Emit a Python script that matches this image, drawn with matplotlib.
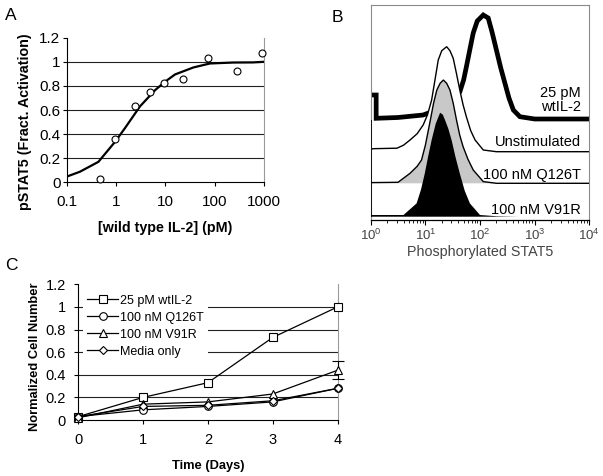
import matplotlib
matplotlib.use('Agg')
import matplotlib.pyplot as plt
import numpy as np
from matplotlib.ticker import FixedLocator, NullFormatter, LogLocator

plt.rcParams['font.family'] = ['Liberation Sans', 'DejaVu Sans']
plt.rcParams['mathtext.fontset'] = 'custom'
plt.rcParams['mathtext.rm'] = 'Liberation Sans'
plt.rcParams['mathtext.it'] = 'Liberation Sans:italic'
plt.rcParams['mathtext.bf'] = 'Liberation Sans:bold'

# ---------------- data ----------------
# Panel A: dose response
a_conc = [0.47, 0.95, 2.4, 4.8, 9.6, 23, 72, 280, 920]
a_resp = [0.028, 0.357, 0.63, 0.746, 0.82, 0.86, 1.034, 0.92, 1.075]
a_fit_conc = [0.1, 0.186, 0.44, 0.96, 1.52, 3.06, 6.2, 9.8, 15.7, 37, 80, 240, 600, 1000]
a_fit_resp = [0.047, 0.088, 0.17, 0.337, 0.45, 0.63, 0.765, 0.834, 0.895, 0.953, 0.986, 0.994, 0.995, 1.0]
a_xticks = [0.1, 1, 10, 100, 1000]
a_xticklabels = ['0.1', '1', '10', '100', '1000']
a_yticks = [0, 0.2, 0.4, 0.6, 0.8, 1.0, 1.2]
a_yticklabels = ['0', '0.2', '0.4', '0.6', '0.8', '1', '1.2']

# Panel B: flow histograms (log10 intensity, height)
wt_logx = [0.0, 0.1, 0.1, 0.5, 0.96, 1.3, 1.5, 1.63, 1.7, 1.75, 1.82, 1.876, 1.95, 2.06, 2.15, 2.22,
           2.30, 2.38, 2.455, 2.53, 2.61, 2.73, 3.0, 4.0]
wt_h = [25, 25, 1.7, 2.5, 5, 12, 20, 28, 40, 53, 72, 87, 99, 105, 102, 88,
        70, 52, 37, 22, 10, 3.3, 1, 1]
un_logx = [0.0, 0.04, 0.48, 0.6, 0.72, 0.85, 0.96, 1.04, 1.115, 1.18, 1.236, 1.3, 1.39, 1.45,
           1.51, 1.57, 1.63, 1.69, 1.75, 1.83, 1.91, 2.06, 2.3, 4.0]
un_h = [2, 3, 3.5, 6.5, 11.7, 18, 26.7, 37, 51.7, 73, 91.7, 101, 105, 101,
        93.4, 78, 61.7, 47, 35, 21, 11.7, 1.7, 0, 0]
q_logx = [0.0, 0.5, 0.72, 0.85, 0.93, 1.0, 1.08, 1.15, 1.21, 1.27, 1.33, 1.39, 1.45, 1.51,
          1.57, 1.63, 1.69, 1.78, 1.876, 2.06, 2.3, 4.0]
q_h = [0.7, 1, 10, 17, 23.3, 38, 60, 80, 93.3, 100, 103.3, 100, 93.3, 80,
       63.3, 48, 36.7, 24, 13.3, 1.7, 0, 0]
v_logx = [0.0, 0.6, 0.84, 0.92, 0.99, 1.05, 1.115, 1.19, 1.27, 1.32, 1.36, 1.42, 1.48, 1.55,
          1.63, 1.72, 1.815, 2.0, 2.3, 2.7, 4.0]
v_h = [1.7, 1.7, 13.3, 27, 43.3, 60, 76.7, 93, 104, 102, 96.7, 88, 76.7, 60,
       43.3, 26, 13.3, 1.7, 0.5, 0, 0]
b_labels = ['25 pM\nwtIL-2', 'Unstimulated', '100 nM Q126T', '100 nM V91R']
b_xticks = [1, 10, 100, 1000, 10000]
b_xticklabels = [r'$\mathregular{10^{0}}$', r'$\mathregular{10^{1}}$', r'$\mathregular{10^{2}}$',
                 r'$\mathregular{10^{3}}$', r'$\mathregular{10^{4}}$']

# Panel C: proliferation
c_days = [0, 1, 2, 3, 4]
c_wt = [0.03, 0.2, 0.33, 0.73, 1.0]
c_q126t = [0.03, 0.09, 0.12, 0.16, 0.28]
c_v91r = [0.02, 0.14, 0.16, 0.23, 0.44]
c_v91r_err = [0, 0, 0, 0, 0.08]
c_media = [0.03, 0.12, 0.13, 0.17, 0.28]
c_series = ['25 pM wtIL-2', '100 nM Q126T', '100 nM V91R', 'Media only']
c_yticks = [0, 0.2, 0.4, 0.6, 0.8, 1.0, 1.2]
c_yticklabels = ['0', '0.2', '0.4', '0.6', '0.8', '1', '1.2']

# ---------------- layout ----------------
W, H = 603, 476
fig = plt.figure(figsize=(W / 100, H / 100), dpi=100)


def ax_px(l, t, r, b):
    return fig.add_axes([l / W, 1 - b / H, (r - l) / W, (b - t) / H])


def excel_style(ax, grid_vals):
    ax.spines['top'].set_visible(False)
    ax.spines['right'].set_color('#9a9a9a')
    ax.spines['right'].set_linewidth(0.8)
    for s in ('left', 'bottom'):
        ax.spines[s].set_color('black')
        ax.spines[s].set_linewidth(0.8)
    for g in grid_vals:
        ax.axhline(g, color='#222222', lw=0.8, zorder=1)


# ---------- Panel A ----------
axA = ax_px(66.7, 37.7, 264, 182.3)
axA.set_xscale('log')
axA.set_xlim(0.1, 1000)
axA.set_ylim(0, 1.2)
excel_style(axA, a_yticks[1:-1])
axA.plot(a_fit_conc, a_fit_resp, color='black', lw=1.6, zorder=3)
axA.plot(a_conc, a_resp, 'o', ms=5, mfc='white', mec='black', mew=0.8, zorder=4, clip_on=False)
axA.xaxis.set_major_locator(FixedLocator(a_xticks))
axA.xaxis.set_minor_locator(FixedLocator([]))
axA.set_xticklabels(a_xticklabels)
axA.set_yticks(a_yticks)
axA.set_yticklabels(a_yticklabels)
axA.tick_params(axis='both', direction='out', length=3, width=0.8, labelsize=11, colors='black')
axA.tick_params(axis='x', pad=6)
axA.tick_params(axis='y', pad=1.5)
axA.set_xlabel('[wild type IL-2] (pM)', fontsize=10.3, fontweight='bold', labelpad=9)
axA.set_ylabel('pSTAT5 (Fract. Activation)', fontsize=10.3, fontweight='bold')
axA.yaxis.set_label_coords(-0.176, 0.42)
fig.text(5 / W, 1 - 20 / H, 'A', fontsize=12.5, ha='left', va='baseline')

# ---------- Panel B ----------
axB = ax_px(370.7, 5, 589.3, 220)
axB.set_xscale('log')
axB.set_xlim(1, 1e4)
axB.set_ylim(0, 215)
for s in ('top', 'left', 'right'):
    axB.spines[s].set_color('#8a8a8a')
    axB.spines[s].set_linewidth(0.8)
axB.spines['bottom'].set_color('black')
axB.spines['bottom'].set_linewidth(0.9)

offsets = [3.3, 36.7, 68.3, 100.0]  # V91R, Q126T, Unstim, wtIL-2 baselines
hist = [
    (wt_logx, wt_h, offsets[3], 'white', 'black', 3.4, 1),
    (un_logx, un_h, offsets[2], 'white', 'black', 1.0, 2),
    (q_logx, q_h, offsets[1], '#c8c8c8', 'black', 1.0, 3),
    (v_logx, v_h, offsets[0], 'black', 'black', 0.6, 4),
]
for lx, h, base, fc, ec, lw, z in hist:
    xv = 10 ** np.asarray(lx)
    yv = base + np.asarray(h)
    axB.fill_between(xv, base, yv, facecolor=fc, edgecolor='none', zorder=z)
    if fc != 'black':
        axB.plot(xv, yv, color=ec, lw=lw, zorder=z + 0.5, solid_joinstyle='miter')
axB.vlines(10 ** wt_logx[0], offsets[0], offsets[3], color='black', lw=1.2, zorder=6)

label_y = [offsets[3] + 20, offsets[2] + 10, offsets[1] + 8, offsets[0] + 7]
for txt, ly in zip(b_labels, label_y):
    axB.text(0.962, ly, txt, transform=axB.get_yaxis_transform(), ha='right', va='center',
             fontsize=10.5, color='black', multialignment='right', linespacing=1.0, zorder=10)

axB.xaxis.set_major_locator(FixedLocator(b_xticks))
axB.xaxis.set_minor_locator(LogLocator(base=10, subs=np.arange(2, 10)))
axB.xaxis.set_minor_formatter(NullFormatter())
axB.set_xticklabels(b_xticklabels)
axB.set_yticks([])
axB.tick_params(axis='x', which='major', direction='out', length=3.8, width=0.8, labelsize=9.5,
                colors='black', labelcolor='#444444', pad=1.5)
axB.tick_params(axis='x', which='minor', direction='out', length=2, width=0.6, colors='black')
axB.set_xlabel('Phosphorylated STAT5', fontsize=10.3, color='#444444', labelpad=2)
fig.text(332 / W, 1 - 22 / H, 'B', fontsize=12.5, ha='left', va='baseline')

# ---------- Panel C ----------
axC = ax_px(78.3, 284.3, 337.6, 420)
axC.set_xlim(0, 4)
axC.set_ylim(0, 1.2)
excel_style(axC, c_yticks[1:-1])
styles = [
    (c_wt, None, 's', 5.5),
    (c_q126t, None, 'o', 5.5),
    (c_v91r, c_v91r_err, '^', 5.5),
    (c_media, None, 'D', 4.5),
]
for (vals, err, mk, ms), name in zip(styles, c_series):
    if err is not None:
        axC.errorbar(c_days, vals, yerr=[e if e > 0 else np.nan for e in err], fmt='none',
                     ecolor='black', elinewidth=0.8, capsize=4, capthick=0.8, zorder=3, clip_on=False)
    axC.plot(c_days, vals, '-', marker=mk, ms=ms, mfc='white', mec='black', mew=0.8,
             color='black', lw=0.9, label=name, zorder=4, clip_on=False)
axC.set_xticks(c_days)
axC.set_xticklabels([str(d) for d in c_days])
axC.set_yticks(c_yticks)
axC.set_yticklabels(c_yticklabels)
axC.tick_params(axis='both', direction='out', length=3, width=0.8, labelsize=10.5, colors='black')
axC.tick_params(axis='x', pad=6.5)
axC.tick_params(axis='y', pad=6)
axC.set_xlabel('Time (Days)', fontsize=9.3, fontweight='bold', labelpad=9)
axC.set_ylabel('Normalized Cell Number', fontsize=9.3, fontweight='bold')
axC.yaxis.set_label_coords(-0.144, 0.464)
leg = axC.legend(loc='upper left', bbox_to_anchor=(0.02, 0.95), fontsize=9, frameon=True,
                 facecolor='white', edgecolor='none', framealpha=1, handlelength=2.5,
                 handletextpad=0.15, labelspacing=0.4, borderpad=0.3, borderaxespad=0,
                 numpoints=1, fancybox=False)
leg.get_frame().set_linewidth(0)
fig.text(5 / W, 1 - 270 / H, 'C', fontsize=12.5, ha='left', va='baseline')

fig.savefig('out.png', dpi=100)
